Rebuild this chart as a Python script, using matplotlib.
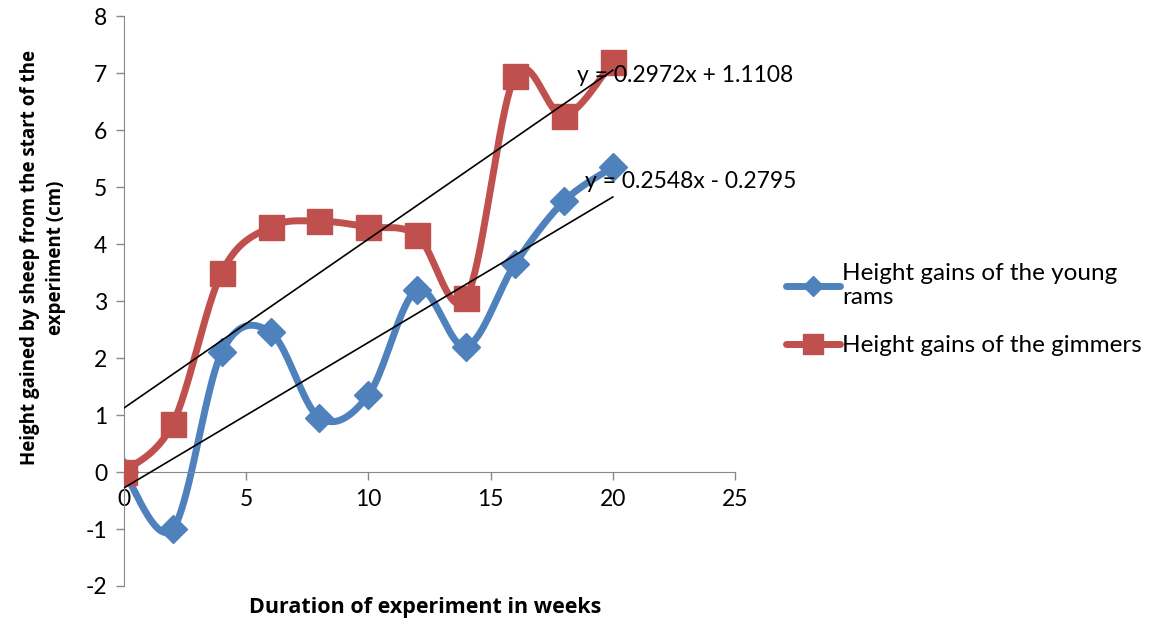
import numpy as np
import matplotlib
matplotlib.use("Agg")
import matplotlib.pyplot as plt
from matplotlib.lines import Line2D

weeks = [0, 2, 4, 6, 8, 10, 12, 14, 16, 18, 20]
rams = [0.0, -1.0, 2.1, 2.45, 0.95, 1.35, 3.2, 2.2, 3.65, 4.75, 5.35]
gimmers = [0.0, 0.85, 3.5, 4.3, 4.4, 4.3, 4.15, 3.05, 6.95, 6.25, 7.2]
labels = ["Height gains of the young\nrams", "Height gains of the gimmers"]
trend_text = ["y = 0.2548x - 0.2795", "y = 0.2972x + 1.1108"]

BLUE = "#4F81BD"
RED = "#C0504D"

plt.rcParams['font.family'] = ['Lato', 'DejaVu Sans']
plt.rcParams['axes.unicode_minus'] = False


def smooth(x, y, n=40):
    x = np.asarray(x, float)
    y = np.asarray(y, float)
    P = np.column_stack([x, y])
    out = []
    for i in range(len(P) - 1):
        p0 = P[i - 1] if i > 0 else P[i]
        p1 = P[i]
        p2 = P[i + 1]
        p3 = P[i + 2] if i + 2 < len(P) else P[i + 1]
        c1 = p1 + (p2 - p0) / 6.0
        c2 = p2 - (p3 - p1) / 6.0
        t = np.linspace(0, 1, n)[:, None]
        seg = ((1 - t) ** 3) * p1 + 3 * ((1 - t) ** 2) * t * c1 + 3 * (1 - t) * t ** 2 * c2 + t ** 3 * p2
        out.append(seg if i == 0 else seg[1:])
    a = np.vstack(out)
    return a[:, 0], a[:, 1]


fig = plt.figure(figsize=(11.53, 6.26), dpi=100)
ax = fig.add_axes([0.1075, 0.0639, 0.53, 0.9105])

for y, c, m, ms in [(rams, BLUE, "D", 14), (gimmers, RED, "s", 18)]:
    sx, sy = smooth(weeks, y)
    ax.plot(sx, sy, color=c, lw=5, solid_capstyle="round", zorder=2)
    ax.plot(weeks, y, ls="none", marker=m, ms=ms, color=c, mec=c, zorder=3)

# linear trendlines
for y, txt, tx, ty in [(rams, trend_text[0], 18.85, 5.1), (gimmers, trend_text[1], 18.55, 6.95)]:
    k, b = np.polyfit(weeks, y, 1)
    xs = np.array([weeks[0], weeks[-1]])
    ax.plot(xs, k * xs + b, color="black", lw=1.2, zorder=4)
    ax.text(tx, ty, txt, fontsize=16.5, color="black", va="center", ha="left", zorder=5)

ax.set_xlim(0, 25)
ax.set_ylim(-2, 8)
ax.set_xticks([0, 5, 10, 15, 20, 25])
ax.set_yticks(range(-2, 9))
for s in ["top", "right"]:
    ax.spines[s].set_visible(False)
ax.spines["bottom"].set_position(("data", 0))
ax.spines["left"].set_color("#888888")
ax.spines["bottom"].set_color("#888888")
ax.tick_params(axis="both", colors="#888888", labelcolor="black", labelsize=16.5, length=6, width=1)
ax.tick_params(axis="x", direction="out", pad=6)
ax.tick_params(axis="y", direction="out", pad=6)

fig.text(0.369, 0.03, "Duration of experiment in weeks", ha="center", va="center",
         fontsize=15.5, fontweight="bold", family=["Open Sans", "DejaVu Sans"])
fig.text(0.037, 0.588, "Height gained by sheep from the start of the\nexperiment (cm)",
         ha="center", va="center", rotation=90, fontsize=13.5, fontweight="bold",
         linespacing=1.4, family=["Open Sans", "DejaVu Sans"])

handles = [Line2D([0], [0], color=BLUE, lw=5, marker="D", ms=10, solid_capstyle="round"),
           Line2D([0], [0], color=RED, lw=5, marker="s", ms=15, solid_capstyle="round")]
fig.legend(handles, labels, loc="upper left", bbox_to_anchor=(0.663, 0.615), frameon=False,
           fontsize=17.5, handlelength=2.2, handletextpad=0.1, labelspacing=1.1)

fig.savefig("out.png", dpi=100, facecolor="white")
